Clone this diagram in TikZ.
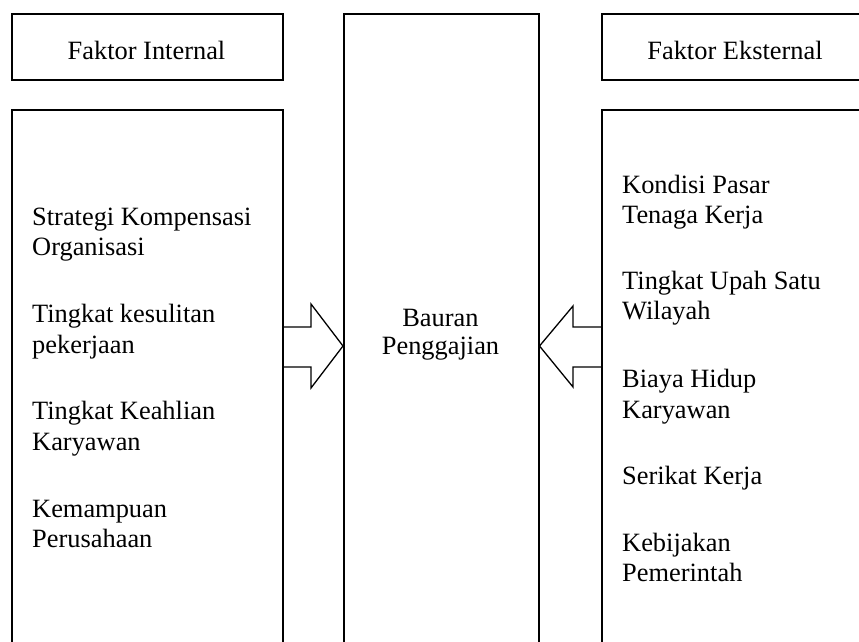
\documentclass[tikz,border=0pt]{standalone}
\usepackage{fontspec}
\setmainfont{Liberation Serif}
\begin{document}
\begin{tikzpicture}[x=1pt,y=-1pt,
  box/.style={draw, line width=1.5pt, inner sep=0pt, anchor=north west},
  blockarrow/.style={draw, line width=1.3pt, line join=miter},
  lbl/.style={anchor=base west, inner sep=0pt, font=\fontsize{26.4}{30}\selectfont},
  ctr/.style={anchor=base, inner sep=0pt, font=\fontsize{26.4}{30}\selectfont}]
\useasboundingbox (0,0) rectangle (859,641);
\clip (0,0) rectangle (859,641);
% boxes
\node[box, minimum width=271pt, minimum height=66pt] (fi) at (11,13) {};
\node[box, minimum width=271pt, minimum height=600pt] (li) at (11,109) {};
\node[box, minimum width=195pt, minimum height=700pt] (c) at (343,13) {};
\node[box, minimum width=268pt, minimum height=66pt] (fe) at (601,13) {};
\node[box, minimum width=268pt, minimum height=600pt] (re) at (601,109) {};
% titles
\node[ctr] (tfi) at (146.5,59) {Faktor Internal};
\node[ctr] (tfe) at (735,59) {Faktor Eksternal};
\node[ctr] (tc1) at (440.5,326) {Bauran};
\node[ctr] (tc2) at (440.5,354) {Penggajian};
% left texts
\node[lbl] (l1a) at (32,225) {Strategi Kompensasi};
\node[lbl] (l1b) at (32,255) {Organisasi};
\node[lbl] (l2a) at (32,322) {Tingkat kesulitan};
\node[lbl] (l2b) at (32,353) {pekerjaan};
\node[lbl] (l3a) at (32,419) {Tingkat Keahlian};
\node[lbl] (l3b) at (32,450) {Karyawan};
\node[lbl] (l4a) at (32,517) {Kemampuan};
\node[lbl] (l4b) at (32,547) {Perusahaan};
% right texts
\node[lbl] (r1a) at (622,193) {Kondisi Pasar};
\node[lbl] (r1b) at (622,223) {Tenaga Kerja};
\node[lbl] (r2a) at (622,289) {Tingkat Upah Satu};
\node[lbl] (r2b) at (622,319) {Wilayah};
\node[lbl] (r3a) at (622,387) {Biaya Hidup};
\node[lbl] (r3b) at (622,418) {Karyawan};
\node[lbl] (r4a) at (622,484) {Serikat Kerja};
\node[lbl] (r5a) at (622,551) {Kebijakan};
\node[lbl] (r5b) at (622,581) {Pemerintah};
% block arrows
\coordinate (lt) at (c.west |- 0,346);
\coordinate (rt) at (c.east |- 0,346);
\draw[blockarrow] (li.east |- 0,327) -- (311,327) -- (311,304) -- (lt) -- (311,388) -- (311,367) -- (li.east |- 0,367);
\draw[blockarrow] (re.west |- 0,327) -- (573,327) -- (573,306) -- (rt) -- (573,387) -- (573,367) -- (re.west |- 0,367);
\end{tikzpicture}
\end{document}
